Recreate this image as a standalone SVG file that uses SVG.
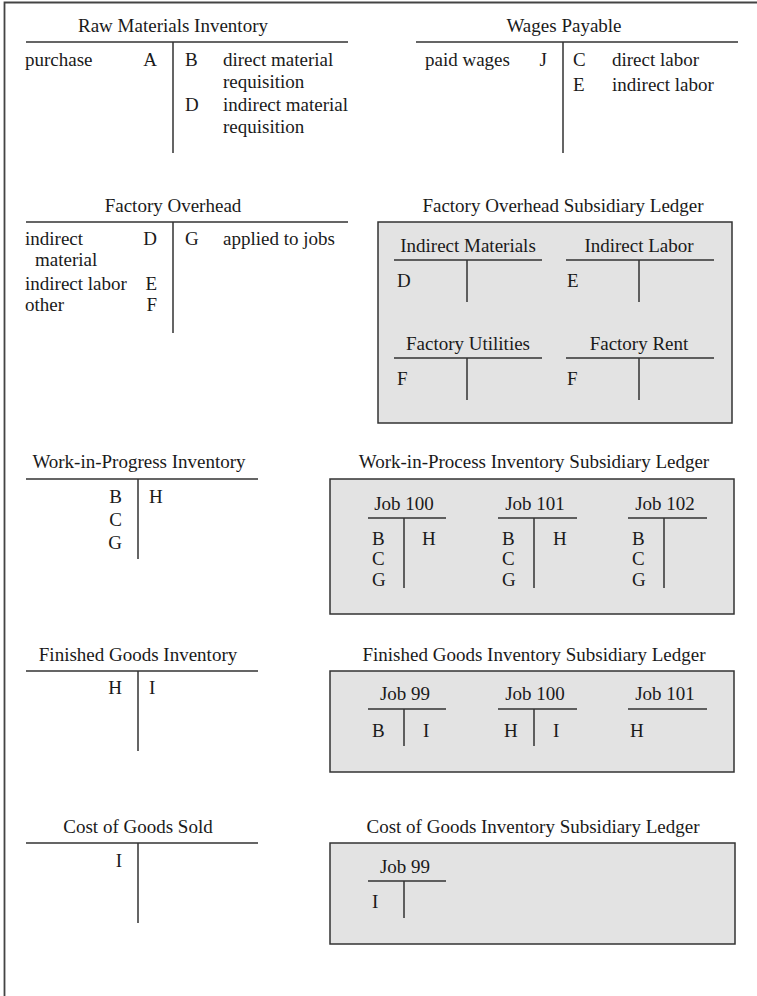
<svg xmlns="http://www.w3.org/2000/svg" width="757" height="996" viewBox="0 0 757 996">
<style>
text{font-family:"Liberation Serif","Times New Roman",serif;font-size:19px;fill:#1a1a1a}
.c{text-anchor:middle}
.e{text-anchor:end}
.ln{stroke:#333;stroke-width:1.5;fill:none}
.box{fill:#e3e3e3;stroke:#333;stroke-width:1.5}
.frame{stroke:#444;stroke-width:1.8;fill:none}
</style>
<rect width="757" height="996" fill="#fff"/>
<path class="frame" d="M4.5 996V2.5H757"/>

<g id="raw-materials">
<text class="c" x="173" y="32">Raw Materials Inventory</text>
<path class="ln" d="M26 42H348M173 42V153"/>
<text x="25" y="66">purchase</text>
<text class="e" x="157" y="66">A</text>
<text x="185" y="66">B</text>
<text x="223" y="66">direct material</text>
<text x="223" y="88">requisition</text>
<text x="185" y="111">D</text>
<text x="223" y="111">indirect material</text>
<text x="223" y="133">requisition</text>
</g>

<g id="wages-payable">
<text class="c" x="564" y="32">Wages Payable</text>
<path class="ln" d="M416 42H738M563 42V153"/>
<text x="425" y="66">paid wages</text>
<text class="e" x="547" y="66">J</text>
<text x="573" y="66">C</text>
<text x="612" y="66">direct labor</text>
<text x="573" y="91">E</text>
<text x="612" y="91">indirect labor</text>
</g>

<g id="factory-overhead">
<text class="c" x="173" y="212">Factory Overhead</text>
<path class="ln" d="M26 222H348M173 222V333"/>
<text x="25" y="245">indirect</text>
<text class="e" x="157" y="245">D</text>
<text x="35" y="266">material</text>
<text x="25" y="290">indirect labor</text>
<text class="e" x="157" y="290">E</text>
<text x="25" y="311">other</text>
<text class="e" x="157" y="311">F</text>
<text x="185" y="245">G</text>
<text x="223" y="245">applied to jobs</text>
</g>

<g id="fo-subsidiary">
<text class="c" x="563" y="212">Factory Overhead Subsidiary Ledger</text>
<rect class="box" x="378" y="222" width="354" height="201"/>
<g id="fo-indirect-materials">
<text class="c" x="468" y="252">Indirect Materials</text>
<path class="ln" d="M394 260H542M467 260V302"/>
<text x="397" y="287">D</text>
</g>
<g id="fo-indirect-labor">
<text class="c" x="639" y="252">Indirect Labor</text>
<path class="ln" d="M566 260H714M639 260V302"/>
<text x="567" y="287">E</text>
</g>
<g id="fo-factory-utilities">
<text class="c" x="468" y="350">Factory Utilities</text>
<path class="ln" d="M394 358H542M467 358V400"/>
<text x="397" y="385">F</text>
</g>
<g id="fo-factory-rent">
<text class="c" x="639" y="350">Factory Rent</text>
<path class="ln" d="M566 358H714M639 358V400"/>
<text x="567" y="385">F</text>
</g>
</g>

<g id="wip">
<text class="c" x="139" y="468">Work-in-Progress Inventory</text>
<path class="ln" d="M26 479H258M138 479V559"/>
<text class="e" x="122" y="503">B</text>
<text class="e" x="122" y="526">C</text>
<text class="e" x="122" y="549">G</text>
<text x="149" y="503">H</text>
</g>

<g id="wip-subsidiary">
<text class="c" x="534" y="468">Work-in-Process Inventory Subsidiary Ledger</text>
<rect class="box" x="330" y="479" width="404" height="135"/>
<g id="wip-job100">
<text class="c" x="404" y="510">Job 100</text>
<path class="ln" d="M368 518H446M404 518V588"/>
<text x="372" y="545">B</text>
<text x="372" y="565">C</text>
<text x="372" y="586">G</text>
<text x="422" y="545">H</text>
</g>
<g id="wip-job101">
<text class="c" x="535" y="510">Job 101</text>
<path class="ln" d="M498 518H577M534 518V588"/>
<text x="502" y="545">B</text>
<text x="502" y="565">C</text>
<text x="502" y="586">G</text>
<text x="553" y="545">H</text>
</g>
<g id="wip-job102">
<text class="c" x="665" y="510">Job 102</text>
<path class="ln" d="M628 518H707M664 518V588"/>
<text x="632" y="545">B</text>
<text x="632" y="565">C</text>
<text x="632" y="586">G</text>
</g>
</g>

<g id="finished-goods">
<text class="c" x="138" y="661">Finished Goods Inventory</text>
<path class="ln" d="M26 671H258M138 671V751"/>
<text class="e" x="122" y="694">H</text>
<text x="149" y="694">I</text>
</g>

<g id="fg-subsidiary">
<text class="c" x="534" y="661">Finished Goods Inventory Subsidiary Ledger</text>
<rect class="box" x="330" y="671" width="404" height="101"/>
<g id="fg-job99">
<text class="c" x="405" y="700">Job 99</text>
<path class="ln" d="M368 709H446M404 709V746"/>
<text x="372" y="737">B</text>
<text x="423" y="737">I</text>
</g>
<g id="fg-job100">
<text class="c" x="535" y="700">Job 100</text>
<path class="ln" d="M498 709H577M534 709V746"/>
<text x="504" y="737">H</text>
<text x="553" y="737">I</text>
</g>
<g id="fg-job101">
<text class="c" x="665" y="700">Job 101</text>
<path class="ln" d="M628 709H707"/>
<text x="630" y="737">H</text>
</g>
</g>

<g id="cogs">
<text class="c" x="138" y="833">Cost of Goods Sold</text>
<path class="ln" d="M26 843H258M138 843V923"/>
<text class="e" x="122" y="867">I</text>
</g>

<g id="cogs-subsidiary">
<text class="c" x="533" y="833">Cost of Goods Inventory Subsidiary Ledger</text>
<rect class="box" x="330" y="843" width="405" height="101"/>
<g id="cogs-job99">
<text class="c" x="405" y="873">Job 99</text>
<path class="ln" d="M368 881H446M404 881V918"/>
<text x="372" y="908">I</text>
</g>
</g>
</svg>
